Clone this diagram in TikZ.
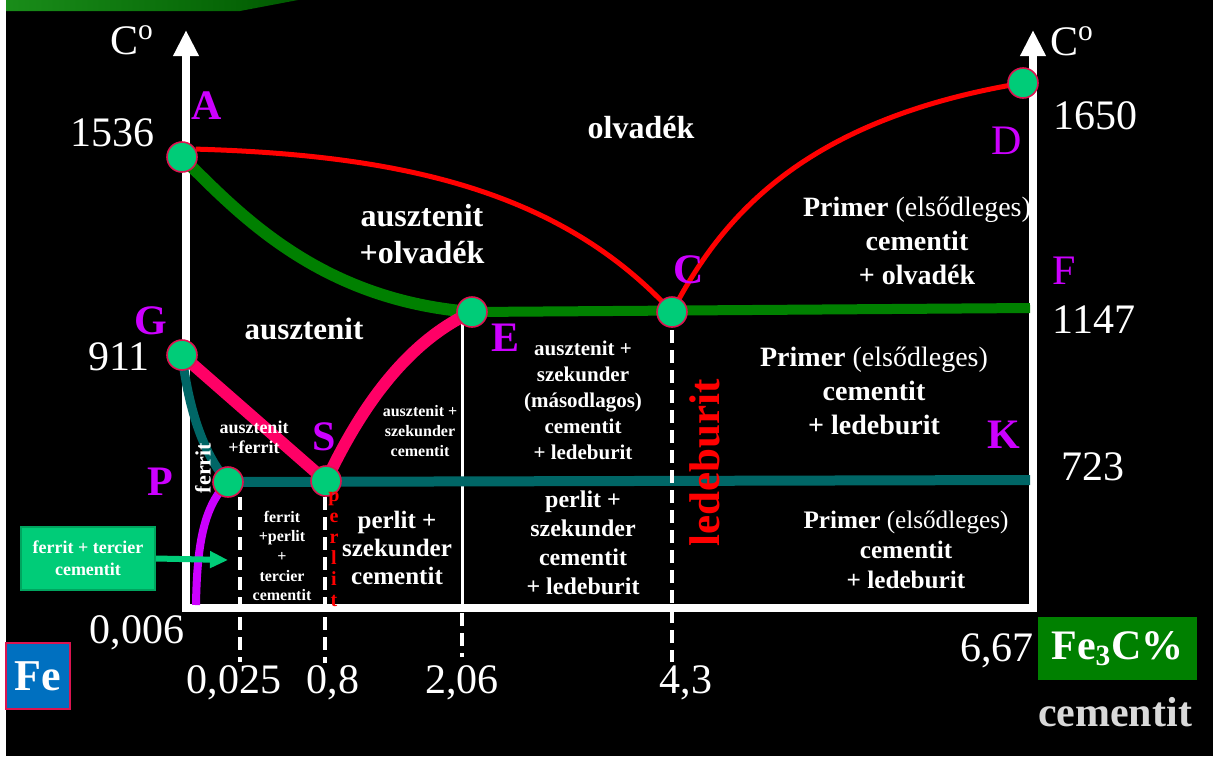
\documentclass[tikz,border=0pt]{standalone}
\usepackage{fontspec}
\setmainfont{Liberation Serif}
\usetikzlibrary{arrows.meta, positioning, calc}

\definecolor{ptfill}{RGB}{0,204,120}
\definecolor{ptrim}{RGB}{220,20,80}
\definecolor{liqred}{RGB}{255,0,0}
\definecolor{solgreen}{RGB}{0,128,0}
\definecolor{gspink}{RGB}{255,0,102}
\definecolor{eutteal}{RGB}{0,102,102}
\definecolor{letpurple}{RGB}{204,0,255}
\definecolor{feblue}{RGB}{0,112,192}
\definecolor{boxrim}{RGB}{0,165,95}
\definecolor{cemgray}{RGB}{217,217,217}

\newcommand\fsz[2]{\fontsize{#1}{#2}\selectfont}

\pgfdeclarelayer{bg}
\pgfsetlayers{bg,main}

\tikzset{
  ptdot/.style={circle, fill=ptfill, draw=ptrim, line width=0.8pt, minimum size=15pt, inner sep=0pt},
  ptname/.style={text=letpurple, font=\fsz{21}{24}\bfseries, inner sep=0pt},
  tnum/.style={text=white, font=\fsz{21}{24}, inner sep=0pt},
  phase/.style={text=white, align=center, inner sep=0pt},
  dashwhite/.style={white, line width=2pt, dash pattern=on 6.5pt off 3.5pt},
}

\begin{document}
\begin{tikzpicture}[x=0.5pt, y=-0.5pt, line join=miter]
\useasboundingbox (0,0) rectangle (1213,756);

% points of the diagram
\node[ptdot] (A) at (182,157) {};
\node[ptdot] (D) at (1023,83) {};
\node[ptdot] (G) at (182,355) {};
\node[ptdot] (C) at (672,312) {};
\node[ptdot] (E) at (472,312) {};
\node[ptdot] (S) at (326,481) {};
\node[ptdot] (P) at (228,482) {};

\coordinate (Fend) at (1030,308);
\coordinate (Kend) at (1030,480);
\coordinate (Pbot) at (196,605);

\begin{pgfonlayer}{bg}
  % background
  \fill[black] (0,0) rectangle (1213,756);
  \fill[white] (0,0) rectangle (6,756);
  \fill[left color=solgreen!90!white, right color=solgreen!70!black] (6,0) -- (298,0) -- (240,11) -- (6,11) -- cycle;

  % axes
  \draw[white, line width=4pt, {Triangle[length=13pt,width=12pt]}-{Triangle[length=13pt,width=12pt]}]
    (186,30) -- (186,608) -- (1033,608) -- (1033,30);

  % verticals
  \coordinate (d1t) at (240,497); \coordinate (d1b) at (240,662);
  \coordinate (d2t) at (325,497); \coordinate (d2b) at (325,663);
  \coordinate (d3t) at (462,322); \coordinate (d3m) at (462,606); \coordinate (d3b) at (462,657);
  \coordinate (d4t) at (672,330); \coordinate (d4b) at (672,662);
  \draw[white, line width=1.5pt] (d3t) -- (d3m);
  \draw[dashwhite] (d3m) ++(0,7) -- (d3b);

  % horizontals
  \draw[solgreen, line width=5pt] (E.center) -- (Fend);
  \draw[eutteal, line width=5pt] (P.center) -- (Kend);

  \draw[dashwhite] (d1t) -- (d1b);
  \draw[dashwhite] (d2t) -- (d2b);
  \draw[dashwhite] (d4t) -- (d4b);

  % curves
  \draw[liqred, line width=2.5pt] (A.30) .. controls (400,155) and (560,190) .. (C.center);
  \draw[liqred, line width=2.5pt] (C.center) .. controls (720,220) and (800,120) .. (D.center);
  \draw[solgreen, line width=6pt] (A.center) .. controls (240,215) and (320,300) .. (E.center);
  \draw[eutteal, line width=4.5pt] (G.center) .. controls (190,420) and (208,460) .. (P.center);
  \draw[gspink, line width=6pt] (G.center) -- (S.center);
  \draw[gspink, line width=6pt] (S.center) .. controls (355,420) and (400,345) .. (E.center);
  \draw[letpurple, line width=4pt] (P.center) .. controls (205,505) and (197,540) .. (Pbot);
\end{pgfonlayer}

% point letters
\node[ptname] (lA) at (207,106) {A};
\node[ptname, font=\fsz{21}{24}] (lD) at (1007,141) {D};
\node[ptname] (lG) at (151,321) {G};
\node[ptname] (lC) at (689,270) {C};
\node[ptname, font=\fsz{21}{24}] (lF) at (1064,271) {F};
\node[ptname] (lE) at (505,338) {E};
\node[ptname] (lS) at (324,437) {S};
\node[ptname] (lK) at (1004,435) {K};
\node[ptname] (lP) at (160,482) {P};

% axis numbers
\node[tnum] (cl) at (132,40) {C\textsuperscript{o}};
\node[tnum] (cr) at (1072,41) {C\textsuperscript{o}};
\node[tnum] (t1536) at (112,133) {1536};
\node[tnum] (t1650) at (1095,116) {1650};
\node[tnum] (t911) at (119,357) {911};
\node[tnum] (t1147) at (1094,320) {1147};
\node[tnum] (t723) at (1093,467) {723};
\node[tnum] (t0006) at (137,633) {0,006};
\node[tnum] (t0025) at (234,683) {0,025};
\node[tnum] (t08) at (333,683) {0,8};
\node[tnum] (t206) at (462,683) {2,06};
\node[tnum] (t43) at (686,683) {4,3};
\node[tnum] (t667) at (997,651) {6,67};

% phase fields
\node[phase, font=\fsz{16}{18.5}\bfseries] (olv) at (641,128) {olvadék};
\node[phase, font=\fsz{16}{18.5}\bfseries] (ausolv) at (422,234) {ausztenit\\+olvadék};
\node[phase, font=\fsz{15.5}{18}\bfseries] (aus) at (304,329) {ausztenit};
\node[phase, font=\fsz{9}{10}\bfseries] (ausfer) at (254,437) {ausztenit\\+ferrit};
\node[phase, font=\fsz{11}{12}\bfseries, rotate=90] (fer) at (203,468) {ferrit};
\node[phase, font=\fsz{8}{9.8}\bfseries] (ferper) at (282,556) {ferrit\\+perlit\\+\\tercier\\cementit};
\node[phase, font=\fsz{8}{10}\bfseries] (aussz) at (420,431) {ausztenit +\\szekunder\\cementit};
\node[phase, font=\fsz{12.5}{14}\bfseries] (persz) at (397,548) {perlit +\\szekunder\\cementit};
\node[phase, font=\fsz{10.5}{13}\bfseries] (ausled) at (583,400) {ausztenit +\\szekunder\\(másodlagos)\\cementit\\+ ledeburit};
\node[phase, font=\fsz{12}{14.5}\bfseries] (perled) at (583,543) {perlit +\\szekunder\\cementit\\+ ledeburit};
\node[phase, text=liqred, font=\fsz{10}{10.5}\bfseries] (perl) at (334,549) {p\\e\\r\\l\\i\\t};
\node[phase, text=liqred, font=\fsz{21.5}{24}\bfseries, rotate=90] (led) at (705,463) {ledeburit};
\node[phase, font=\fsz{14}{17}] (prim1) at (917,241) {\textbf{Primer} (elsődleges)\\\textbf{cementit}\\\textbf{+ olvadék}};
\node[phase, font=\fsz{14}{17}] (prim2) at (874,391) {\textbf{Primer} (elsődleges)\\\textbf{cementit}\\\textbf{+ ledeburit}};
\node[phase, font=\fsz{12.6}{15}] (prim3) at (906,550) {\textbf{Primer} (elsődleges)\\\textbf{cementit}\\\textbf{+ ledeburit}};

% boxes
\node[fill=feblue, draw=ptrim, line width=0.8pt, minimum width=32pt, minimum height=33pt, inner sep=0pt,
      text=white, font=\fsz{22}{24}\bfseries] (fe) at (38,676) {Fe};
\node[fill=solgreen, minimum width=79.5pt, minimum height=31.5pt, inner sep=0pt,
      text=white, font=\fsz{21}{24}\bfseries] (fe3c) at (1117.5,648.5) {Fe\textsubscript{3}C\%};
\node[text=cemgray, font=\fsz{21}{24}\bfseries, inner sep=0pt] (cem) at (1115,712) {cementit};
\node[fill=ptfill, draw=boxrim, line width=1pt, minimum width=67pt, minimum height=31.5pt, inner sep=0pt,
      align=center, text=white, font=\fsz{9}{11}\bfseries] (terc) at (88,558.5) {ferrit + tercier\\cementit};
\coordinate (tarr) at (228,560);
\draw[ptfill, line width=3pt, -{Triangle[length=9pt,width=8pt]}] (terc.east) -- (tarr);
\end{tikzpicture}
\end{document}
